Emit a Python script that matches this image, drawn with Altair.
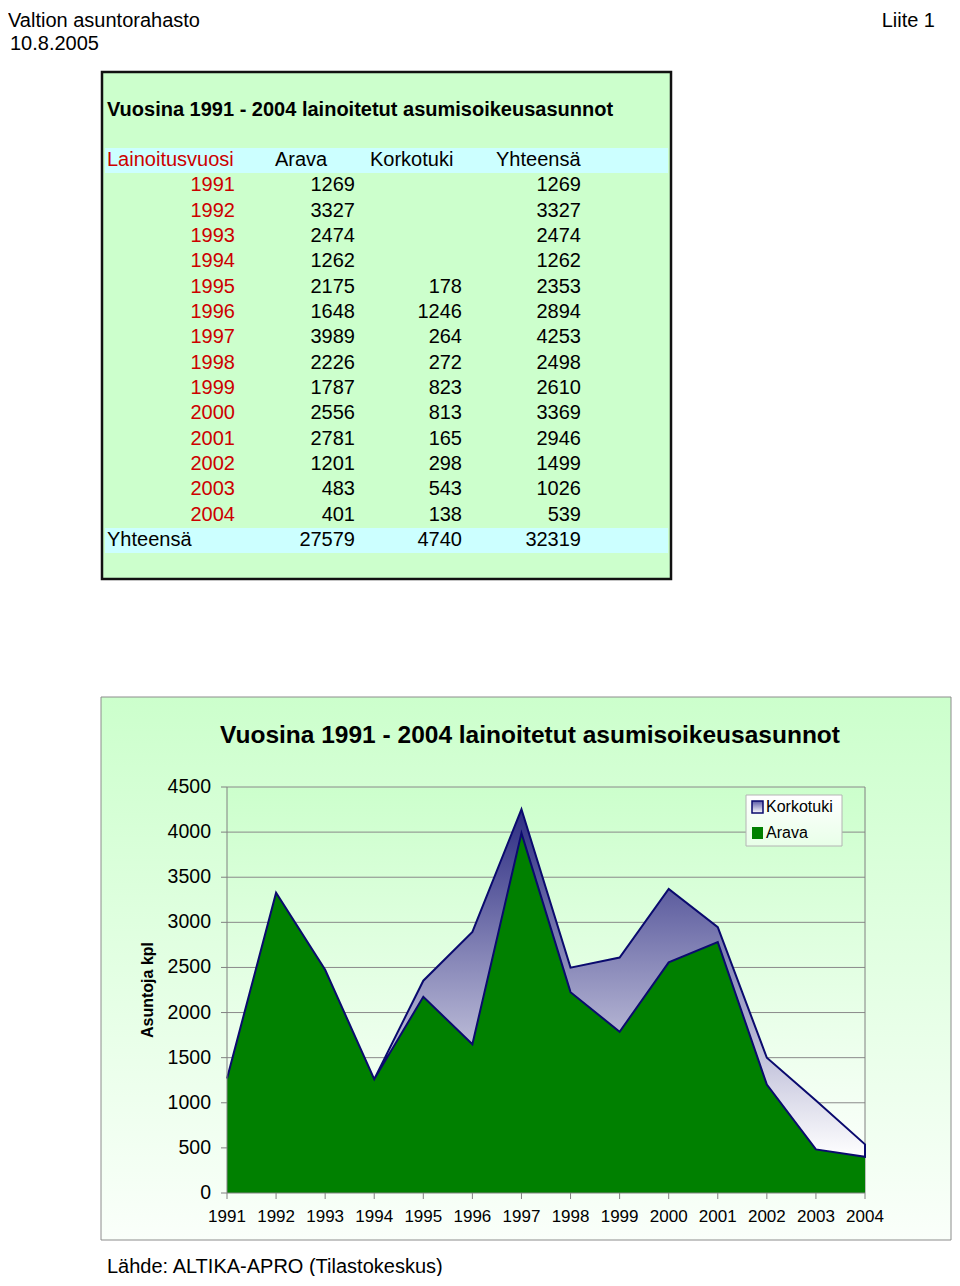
import altair as alt
import pandas as pd

# ---------------- data ----------------
years = [1991, 1992, 1993, 1994, 1995, 1996, 1997, 1998, 1999, 2000, 2001, 2002, 2003, 2004]
arava = [1269, 3327, 2474, 1262, 2175, 1648, 3989, 2226, 1787, 2556, 2781, 1201, 483, 401]
korkotuki = [None, None, None, None, 178, 1246, 264, 272, 823, 813, 165, 298, 543, 138]
yhteensa = [1269, 3327, 2474, 1262, 2353, 2894, 4253, 2498, 2610, 3369, 2946, 1499, 1026, 539]
total_label = "Yhteensä"
total_arava = 27579
total_korkotuki = 4740
total_yhteensa = 32319
table_columns = ["Lainoitusvuosi", "Arava", "Korkotuki", "Yhteensä"]
y_ticks = [0, 500, 1000, 1500, 2000, 2500, 3000, 3500, 4000, 4500]
series_names = ["Korkotuki", "Arava"]
title_text = "Vuosina 1991 - 2004 lainoitetut asumisoikeusasunnot"
header_left = "Valtion asuntorahasto"
header_right = "Liite 1"
header_date = "10.8.2005"
y_title = "Asuntoja kpl"
source_text = "Lähde: ALTIKA-APRO (Tilastokeskus)"

FONT = "Liberation Sans"
W, H = 944, 1268
RED = "#cc0000"
NAVY = "#0a0a6e"
GREEN = "#008000"

one = pd.DataFrame({"k": [0]})


def grad(c0, c1):
    return alt.LinearGradient(
        gradient="linear",
        stops=[alt.GradientStop(color=c0, offset=0), alt.GradientStop(color=c1, offset=1)],
        x1=0, x2=0, y1=0, y2=1,
    )


def label(text, x, y, size=20, bold=False, align="left", color="black", angle=0, baseline="middle"):
    return alt.Chart(one).mark_text(
        text=text, font=FONT, fontSize=size, fontWeight="bold" if bold else "normal",
        align=align, baseline=baseline, color=color, angle=angle,
    ).encode(x=alt.value(x), y=alt.value(y))


def box(x1, x2, y1, y2, **kw):
    return alt.Chart(one).mark_rect(**kw).encode(
        x=alt.value(x1), x2=alt.value(x2), y=alt.value(y1), y2=alt.value(y2)
    )


def hline(x1, x2, y, color="#808080", width=1):
    return alt.Chart(one).mark_rule(color=color, strokeWidth=width).encode(
        x=alt.value(x1), x2=alt.value(x2), y=alt.value(y)
    )


def vline(x, y1, y2, color="#808080", width=1):
    return alt.Chart(one).mark_rule(color=color, strokeWidth=width).encode(
        x=alt.value(x), y=alt.value(y1), y2=alt.value(y2)
    )


# ---------------- table ----------------
row_domain = ["head"] + [str(y) for y in years] + ["total"]
ROW = alt.Scale(type="point", domain=row_domain, range=[152, 532], padding=0)

fmt = lambda v: "" if v is None else str(v)
tbl = pd.DataFrame({
    "row": [str(y) for y in years] + ["total"],
    "year": [str(y) for y in years] + [""],
    "arava": [fmt(v) for v in arava] + [str(total_arava)],
    "korko": [fmt(v) for v in korkotuki] + [str(total_korkotuki)],
    "yht": [fmt(v) for v in yhteensa] + [str(total_yhteensa)],
})
head = pd.DataFrame({"row": ["head"] * 4, "name": table_columns})


def col_layer(field, x, color="black"):
    return alt.Chart(tbl).mark_text(font=FONT, fontSize=20, align="right", baseline="middle", color=color).encode(
        x=alt.value(x), y=alt.Y("row:N", scale=ROW, axis=None), text=f"{field}:N"
    )


def head_layer(i, x, color="black"):
    return alt.Chart(head).transform_filter(alt.datum.name == table_columns[i]).mark_text(
        font=FONT, fontSize=20, align="left", baseline="middle", color=color
    ).encode(x=alt.value(x), y=alt.Y("row:N", scale=ROW, axis=None), text="name:N")


total_row = alt.Chart(pd.DataFrame({"row": ["total"], "name": [total_label]})).mark_text(
    font=FONT, fontSize=20, align="left", baseline="middle", color="black"
).encode(x=alt.value(99), y=alt.Y("row:N", scale=ROW, axis=None), text="name:N")

table_layers = [
    box(94, 663, 64, 571, fill="#ccffcc", stroke="#111111", strokeWidth=2.5),
    box(97, 660, 140, 165, fill="#ccffff"),
    box(97, 660, 520, 545, fill="#ccffff"),
    label(title_text, 99, 102, size=20, bold=True),
    head_layer(0, 99, RED), head_layer(1, 267), head_layer(2, 362), head_layer(3, 488),
    col_layer("year", 227, RED), col_layer("arava", 347), col_layer("korko", 454), col_layer("yht", 573),
    total_row,
]

# ---------------- chart ----------------
XS = alt.Scale(domain=[years[0], years[-1]], range=[219, 857], zero=False, nice=False)
YS = alt.Scale(domain=[y_ticks[0], y_ticks[-1]], range=[1185, 779], zero=False, nice=False)

cdf = pd.DataFrame({"year": years, "arava": arava, "total": yhteensa})
ticks_df = pd.DataFrame({"v": y_ticks})
years_df = pd.DataFrame({"year": years, "lab": [str(y) for y in years]})

x_enc = alt.X("year:Q", scale=XS, axis=None)

arava_area = alt.Chart(cdf).mark_area(color=GREEN, opacity=1).encode(
    x=x_enc, y=alt.Y("arava:Q", scale=YS, axis=None), y2=alt.datum(0)
)
korko_band = alt.Chart(cdf).mark_area(
    fill=grad("#2c2c82", "#ffffff"), stroke=NAVY, strokeWidth=2, strokeJoin="miter", opacity=1
).encode(x=x_enc, y=alt.Y("total:Q", scale=YS, axis=None), y2="arava:Q")

grid = alt.Chart(ticks_df).transform_filter(alt.datum.v > 0).mark_rule(color="#8a8a8a", strokeWidth=1).encode(
    y=alt.Y("v:Q", scale=YS, axis=None), x=alt.value(219), x2=alt.value(857)
)
ytick_marks = alt.Chart(ticks_df).mark_rule(color="#808080").encode(
    y=alt.Y("v:Q", scale=YS, axis=None), x=alt.value(213), x2=alt.value(219)
)
ylabels = alt.Chart(ticks_df).mark_text(font=FONT, fontSize=19.5, align="right", baseline="middle", color="black").encode(
    y=alt.Y("v:Q", scale=YS, axis=None), x=alt.value(203), text="v:Q"
)
xtick_marks = alt.Chart(years_df).mark_rule(color="#808080").encode(
    x=x_enc, y=alt.value(1185), y2=alt.value(1191)
)
xlabels = alt.Chart(years_df).mark_text(font=FONT, fontSize=17, align="center", baseline="middle", color="black").encode(
    x=x_enc, y=alt.value(1209), text="lab:N"
)

chart_layers = [
    box(93, 943, 689, 1232, fill=grad("#ccffcc", "#fafffa"), stroke="#8c8c8c", strokeWidth=1),
    label(title_text, 522, 728, size=24.5, bold=True, align="center"),
    box(219, 857, 779, 1185, fill=grad("#ccffcc", "#ffffff")),
    grid,
    vline(857, 779, 1185),
    arava_area,
    korko_band,
    vline(219, 779, 1185),
    hline(219, 857, 1185),
    ytick_marks, xtick_marks, ylabels, xlabels,
    label(y_title, 140, 982, size=16, bold=True, align="center", angle=270),
    # legend
    box(738, 834, 787, 838, fill=grad("#ffffff", "#e8ffe8"), stroke="#b4b4b4", strokeWidth=1),
    box(744, 755, 793, 805, fill=grad("#5a5aa8", "#ffffff"), stroke=NAVY, strokeWidth=1.5),
    box(744, 755, 819, 831, fill=GREEN),
    label(series_names[0], 758, 799, size=16),
    label(series_names[1], 758, 825, size=16),
]

page_layers = [
    label(header_left, 0, 19, size=20, baseline="alphabetic"),
    label(header_right, 927, 19, size=20, align="right", baseline="alphabetic"),
    label(header_date, 2, 42, size=20, baseline="alphabetic"),
    label(source_text, 99, 1259, size=20),
]

chart = alt.layer(*page_layers, *table_layers, *chart_layers).resolve_scale(
    x="independent", y="independent"
).properties(
    width=W, height=H, padding=0, autosize=alt.AutoSizeParams(type="none")
).configure_view(stroke=None)

chart.save("out.html", embed_options={"renderer": "svg", "actions": False})
